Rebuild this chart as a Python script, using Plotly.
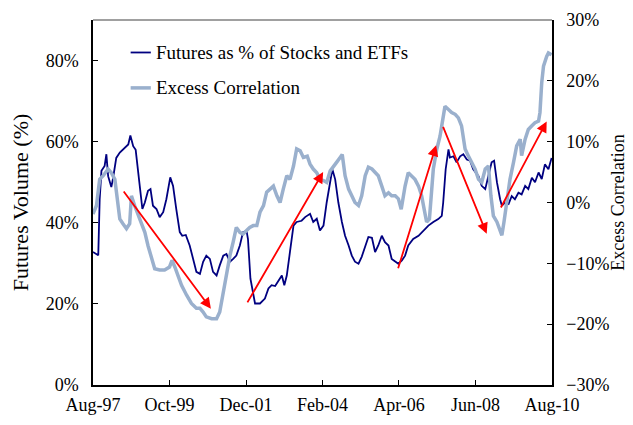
import pandas as pd
import plotly.graph_objects as go

# readings taken off the chart: decimal year, value in %
fut_years = [1997.58, 1997.73, 1997.77, 1997.82, 1997.91, 1997.96, 1998.01, 1998.10, 1998.15, 1998.24,
             1998.34, 1998.48, 1998.58, 1998.64, 1998.72, 1998.79, 1998.86, 1998.91, 1998.98, 1999.05,
             1999.14, 1999.21, 1999.28, 1999.38, 1999.47, 1999.57, 1999.66, 1999.77, 1999.85, 1999.94,
             2000.04, 2000.11, 2000.21, 2000.32, 2000.42, 2000.51, 2000.61, 2000.70, 2000.79, 2000.89,
             2000.98, 2001.08, 2001.17, 2001.27, 2001.36, 2001.46, 2001.55, 2001.64, 2001.74, 2001.83,
             2001.93, 2001.97, 2002.04, 2002.12, 2002.17, 2002.31, 2002.45, 2002.55, 2002.64, 2002.74,
             2002.83, 2002.93, 2003.00, 2003.07, 2003.16, 2003.26, 2003.35, 2003.49, 2003.59, 2003.73,
             2003.82, 2003.92, 2004.01, 2004.11, 2004.20, 2004.30, 2004.36, 2004.44, 2004.53, 2004.63,
             2004.72, 2004.82, 2004.91, 2005.00, 2005.10, 2005.19, 2005.29, 2005.38, 2005.48, 2005.57,
             2005.66, 2005.76, 2005.85, 2005.95, 2006.04, 2006.14, 2006.23, 2006.33, 2006.42, 2006.51,
             2006.65, 2006.80, 2006.94, 2007.08, 2007.22, 2007.36, 2007.46, 2007.50, 2007.57, 2007.65,
             2007.69, 2007.79, 2007.88, 2007.98, 2008.07, 2008.17, 2008.26, 2008.35, 2008.50, 2008.59,
             2008.69, 2008.78, 2008.87, 2008.94, 2009.02, 2009.11, 2009.16, 2009.25, 2009.35, 2009.44,
             2009.53, 2009.63, 2009.72, 2009.82, 2009.91, 2010.01, 2010.10, 2010.20, 2010.29, 2010.38,
             2010.48, 2010.57]
fut_values = [32.8, 32.0, 45.8, 52.8, 54.0, 56.9, 51.5, 48.8, 51.0, 56.0,
              57.3, 58.5, 59.3, 61.5, 58.9, 58.0, 52.4, 48.3, 43.4, 45.0,
              47.9, 48.3, 44.2, 43.4, 41.4, 42.6, 45.8, 51.2, 49.1, 43.4,
              37.7, 36.8, 37.0, 34.4, 31.1, 27.9, 27.4, 30.4, 31.9, 31.1,
              27.9, 27.0, 29.5, 31.9, 32.3, 30.4, 31.1, 31.9, 34.4, 37.7,
              38.0, 36.0, 26.2, 22.1, 20.1, 20.1, 21.3, 23.8, 24.6, 24.4,
              25.8, 27.0, 24.6, 27.0, 32.8, 39.3, 40.2, 40.5, 41.4, 42.2,
              40.2, 41.0, 38.1, 39.3, 45.0, 50.7, 53.2, 50.7, 45.0, 40.2,
              36.8, 34.4, 31.9, 30.4, 29.9, 31.6, 34.4, 36.5, 36.3, 32.8,
              34.4, 36.8, 35.2, 34.4, 31.1, 30.4, 29.9, 30.7, 31.9, 34.4,
              36.0, 36.8, 38.1, 39.3, 40.2, 40.9, 41.7, 45.0, 53.2, 58.1,
              56.1, 56.4, 54.9, 56.4, 56.9, 55.6, 55.3, 53.2, 51.5, 49.1,
              48.3, 51.5, 54.9, 55.3, 50.0, 45.8, 44.2, 45.0, 44.6, 46.6,
              45.8, 47.4, 47.0, 49.1, 48.3, 51.1, 50.0, 52.4, 50.8, 54.4,
              53.2, 56.0]

corr_years = [1997.58, 1997.68, 1997.77, 1997.87, 1998.01, 1998.10, 1998.20, 1998.26, 1998.34, 1998.43,
              1998.53, 1998.62, 1998.67, 1998.76, 1998.91, 1999.05, 1999.14, 1999.24, 1999.33, 1999.47,
              1999.61, 1999.75, 1999.82, 1999.90, 1999.99, 2000.09, 2000.23, 2000.37, 2000.51, 2000.61,
              2000.70, 2000.79, 2000.94, 2001.08, 2001.17, 2001.27, 2001.36, 2001.46, 2001.55, 2001.64,
              2001.74, 2001.83, 2001.93, 2002.02, 2002.12, 2002.22, 2002.31, 2002.41, 2002.50, 2002.60,
              2002.69, 2002.79, 2002.88, 2002.97, 2003.07, 2003.16, 2003.26, 2003.35, 2003.45, 2003.54,
              2003.65, 2003.73, 2003.82, 2003.92, 2004.01, 2004.11, 2004.20, 2004.30, 2004.39, 2004.48,
              2004.58, 2004.64, 2004.72, 2004.82, 2004.91, 2005.00, 2005.10, 2005.19, 2005.29, 2005.38,
              2005.48, 2005.57, 2005.66, 2005.76, 2005.85, 2005.95, 2006.04, 2006.14, 2006.23, 2006.31,
              2006.42, 2006.51, 2006.61, 2006.70, 2006.80, 2006.89, 2006.96, 2007.03, 2007.11, 2007.17,
              2007.22, 2007.32, 2007.41, 2007.49, 2007.55, 2007.65, 2007.74, 2007.84, 2007.93, 2008.02,
              2008.12, 2008.21, 2008.31, 2008.40, 2008.50, 2008.59, 2008.69, 2008.78, 2008.85, 2008.92,
              2009.02, 2009.11, 2009.16, 2009.22, 2009.30, 2009.39, 2009.49, 2009.58, 2009.68, 2009.72,
              2009.82, 2009.91, 2010.01, 2010.10, 2010.20, 2010.24, 2010.29, 2010.34, 2010.43, 2010.48,
              2010.57]
corr_values = [-1.9, -0.5, 3.8, 4.4, 5.5, 4.9, 3.8, 0.6, -2.7, -3.5,
               -4.3, -3.5, 1.1, -0.5, -2.7, -4.9, -7.1, -9.2, -10.9, -11.1,
               -11.1, -10.6, -9.5, -10.6, -12.0, -13.6, -15.2, -16.6, -17.4, -17.4,
               -18.0, -18.8, -19.1, -19.1, -18.0, -14.7, -11.4, -8.7, -6.5, -4.1,
               -4.9, -5.2, -4.6, -4.1, -3.8, -3.8, -1.6, -0.5, 1.7, 2.2,
               2.7, 1.1, 0.0, 2.2, 4.4, 3.8, 6.0, 8.8, 8.5, 7.4,
               7.6, 6.3, 5.5, 4.9, 3.8, 3.6, 3.3, 5.2, 6.0, 6.6,
               7.4, 7.9, 4.4, 2.2, 1.1, 0.0, -0.5, 1.1, 4.4, 5.8,
               5.5, 4.9, 4.4, 2.7, 1.1, 1.6, 1.1, 1.1, 0.6, -1.1,
               2.7, 4.9, 4.4, 3.8, 2.7, 1.1, -1.1, -3.2, -2.7, 2.7,
               5.5, 8.8, 10.9, 13.7, 15.8, 15.3, 14.8, 14.5, 13.9, 12.6,
               8.8, 7.7, 6.6, 5.5, 3.8, 3.3, 5.5, 6.0, 1.1, -2.2,
               -3.2, -4.9, -5.4, -3.2, 0.6, 3.8, 6.6, 9.3, 10.4, 7.7,
               10.4, 12.0, 12.6, 13.1, 13.4, 14.8, 19.7, 22.4, 24.0, 24.6,
               24.3]

tick_dates = ["1997-08-01", "1999-10-01", "2001-12-01", "2004-02-01",
              "2006-04-01", "2008-06-01", "2010-08-01"]
tick_labels = ["Aug-97", "Oct-99", "Dec-01", "Feb-04", "Apr-06", "Jun-08", "Aug-10"]

# red trend arrows: (start year, start %, end year, end %) on the left axis
arrow_starts = [(1998.42, 48.1), (2001.93, 20.0), (2006.21, 28.4), (2007.48, 64.0), (2009.11, 43.4)]
arrow_ends = [(2000.92, 18.8), (2004.10, 52.5), (2007.30, 59.1), (2008.73, 37.3), (2010.43, 65.0)]

NAVY = "#000080"
LIGHT = "#9AB0CD"
FONT = "Liberation Serif"


def to_date(y):
    yr = int(y)
    start = pd.Timestamp(year=yr, month=1, day=1)
    days = (pd.Timestamp(year=yr + 1, month=1, day=1) - start).days
    return start + pd.Timedelta(days=(y - yr) * days)


fig = go.Figure()

fig.add_trace(go.Scatter(
    x=[to_date(v) for v in corr_years], y=corr_values,
    mode="lines", name="Excess Correlation",
    line=dict(color=LIGHT, width=3.5), yaxis="y2"
))
fig.add_trace(go.Scatter(
    x=[to_date(v) for v in fut_years], y=fut_values,
    mode="lines", name="Futures as % of Stocks and ETFs",
    line=dict(color=NAVY, width=1.8)
))

for (sx, sy), (ex, ey) in zip(arrow_starts, arrow_ends):
    fig.add_annotation(
        x=to_date(ex), y=ey, ax=to_date(sx), ay=sy,
        xref="x", yref="y", axref="x", ayref="y",
        showarrow=True, arrowhead=2, arrowsize=1.2, arrowwidth=1.8,
        arrowcolor="#FF0000", text=""
    )

# legend drawn by hand so the samples stay short
legend_items = [("Futures as % of Stocks and ETFs", NAVY, 1.8, 0.911),
                ("Excess Correlation", LIGHT, 3.5, 0.814)]
for label, color, width, ly in legend_items:
    fig.add_shape(type="line", xref="paper", yref="paper",
                  x0=0.082, x1=0.126, y0=ly, y1=ly,
                  line=dict(color=color, width=width))
    fig.add_annotation(text=label, xref="paper", yref="paper",
                       x=0.133, y=ly, xanchor="left", yanchor="middle",
                       showarrow=False, font=dict(family=FONT, size=19, color="black"))

# right axis title as an annotation, plotly squeezes the real one against the edge
fig.add_annotation(text="Excess Correlation", xref="paper", yref="paper",
                   x=1.142, y=0.5, xanchor="center", yanchor="middle",
                   textangle=-90, showarrow=False,
                   font=dict(family=FONT, size=18, color="black"))

# grey top frame
fig.add_shape(type="line", xref="paper", yref="paper", x0=0, x1=1, y0=1, y1=1,
              line=dict(color="#808080", width=1.5))

axis_common = dict(
    ticks="inside", ticklen=5, tickcolor="black",
    showline=True, linecolor="black", linewidth=1.5,
    showgrid=False, zeroline=False, automargin=False,
    tickfont=dict(family=FONT, size=18, color="black"),
)

# page body has an 8px margin; keep the height inside the window so no scrollbar shows
fig.update_layout(
    width=625, height=409,
    margin=dict(l=85, r=81, t=12, b=32),
    plot_bgcolor="white", paper_bgcolor="white",
    showlegend=False,
    font=dict(family=FONT, size=18, color="black"),
    xaxis=dict(
        type="date", range=["1997-08-01", "2010-08-01"],
        tickvals=tick_dates, ticktext=tick_labels,
        ticklabelstandoff=3, **axis_common
    ),
    yaxis=dict(
        title=dict(text="Futures Volume (%)", standoff=12),
        range=[0, 90], tick0=0, dtick=20, ticksuffix="%",
        ticklabelstandoff=9, **axis_common
    ),
    yaxis2=dict(
        overlaying="y", side="right",
        range=[-30, 30], dtick=10, ticksuffix="%",
        ticklabelstandoff=9, **axis_common
    ),
)

fig.write_html("out.html")
